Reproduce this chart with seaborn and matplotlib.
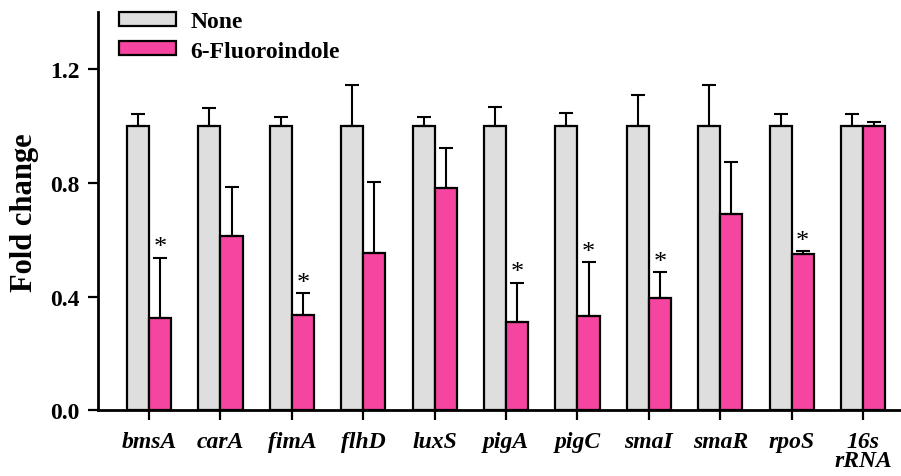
import pandas as pd
import matplotlib
matplotlib.use('Agg')
import matplotlib.pyplot as plt
import seaborn as sns

genes = ['bmsA', 'carA', 'fimA', 'flhD', 'luxS', 'pigA', 'pigC', 'smaI', 'smaR', 'rpoS', '16s\nrRNA']
none_vals = [1.0, 1.0, 1.0, 1.0, 1.0, 1.0, 1.0, 1.0, 1.0, 1.0, 1.0]
none_err = [0.042, 0.062, 0.032, 0.145, 0.030, 0.067, 0.046, 0.110, 0.145, 0.044, 0.044]
fluoro_vals = [0.324, 0.612, 0.334, 0.553, 0.783, 0.309, 0.332, 0.395, 0.690, 0.549, 1.0]
fluoro_err = [0.213, 0.172, 0.078, 0.250, 0.140, 0.140, 0.190, 0.092, 0.183, 0.012, 0.015]
signif = [True, False, True, False, False, True, True, True, False, True, False]
groups = ['None', '6-Fluoroindole']

df = pd.DataFrame({
    'gene': genes * 2,
    'grupo': [groups[0]] * len(genes) + [groups[1]] * len(genes),
    'fold': none_vals + fluoro_vals,
})

sns.set_style('ticks')
plt.rcParams['font.family'] = ['Liberation Serif', 'DejaVu Serif']
plt.rcParams['text.color'] = 'black'
plt.rcParams['axes.labelcolor'] = 'black'
plt.rcParams['xtick.color'] = 'black'
plt.rcParams['ytick.color'] = 'black'
plt.rcParams['axes.edgecolor'] = 'black'

fig = plt.figure(figsize=(9.01, 4.77), dpi=100)
ax = fig.add_axes([0.1088, 0.138, 0.8912, 0.834])

sns.barplot(data=df, x='gene', y='fold', hue='grupo', palette=['#dedede', '#f545a0'],
            width=0.62, errorbar=None, edgecolor='black', linewidth=1.6, ax=ax, saturation=1)

# barras de erro so para cima
erros = [none_err, fluoro_err]
conts = list(ax.containers[:2])
for k, cont in enumerate(conts):
    for i, bar in enumerate(cont):
        x = bar.get_x() + bar.get_width() / 2
        h = bar.get_height()
        ax.errorbar(x, h, yerr=[[0], [erros[k][i]]], fmt='none', ecolor='black',
                    elinewidth=1.5, capsize=5, capthick=1.5, zorder=1)
        if k == 1 and signif[i]:
            ax.text(x, h + erros[k][i] - 0.003, '*', ha='center', va='bottom',
                    fontsize=19, color='black')

ax.set_ylim(0, 1.4)
ax.set_xlim(-0.714, 10.53)
ax.set_yticks([0.0, 0.4, 0.8, 1.2])
ax.set_yticklabels(['0.0', '0.4', '0.8', '1.2'], fontsize=17, fontweight='bold')
ax.set_xticks(range(len(genes)))
ax.set_xticklabels(genes, fontsize=17, fontweight='bold', style='italic', linespacing=0.85)
ax.tick_params(axis='both', direction='out', length=7, width=1.6, color='black')
ax.tick_params(axis='x', pad=8)
ax.tick_params(axis='y', pad=6)
ax.set_xlabel('')
ax.set_ylabel('Fold change', fontsize=22, fontweight='bold', labelpad=8)

sns.despine(ax=ax)
ax.spines['left'].set_linewidth(2)
ax.spines['bottom'].set_linewidth(2)

leg = ax.legend(loc='upper left', bbox_to_anchor=(0.0, 1.056), frameon=False,
                prop={'size': 17, 'weight': 'bold'}, handlelength=2.4, handleheight=0.55,
                labelspacing=0.35, handletextpad=0.6)
for h in leg.legend_handles:
    h.set_edgecolor('black')
    h.set_linewidth(1.6)

fig.savefig('out.png', dpi=100)
